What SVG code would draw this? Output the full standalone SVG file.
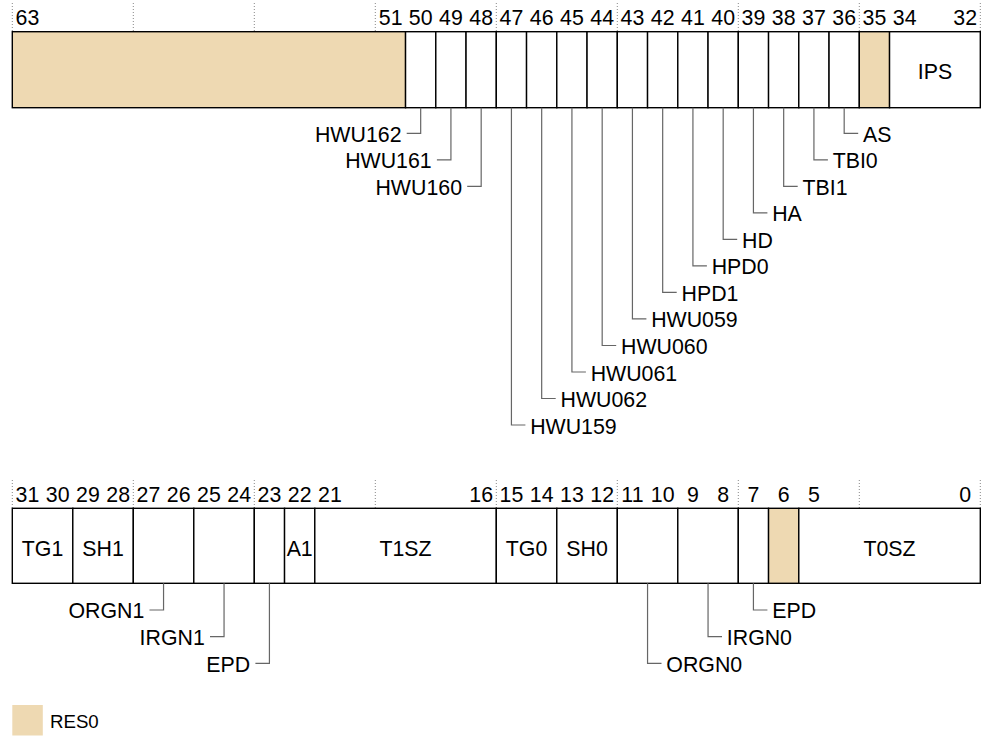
<svg xmlns="http://www.w3.org/2000/svg" width="987" height="737" viewBox="0 0 987 737">
<style>
text{font-family:"Liberation Sans",Arial,sans-serif;fill:#000}
.n{font-size:21.33px;text-anchor:middle}
.f{font-size:21.33px;text-anchor:middle}
.l{font-size:21.33px}
.e{text-anchor:end}
.cell{fill:#fff;stroke:#000;stroke-width:1.4}
.res{fill:#EED9B2;stroke:#000;stroke-width:1.4}
.dot{stroke:#888;stroke-width:1;stroke-dasharray:1,2;fill:none}
.ln{stroke:#666;stroke-width:1.2;fill:none}
</style>
<g id="grid-top">
<path class="dot" d="M12.3,3V31.7M133.3,3V31.7M254.3,3V31.7M375.3,3V31.7M496.3,3V31.7M617.3,3V31.7M738.3,3V31.7M859.3,3V31.7M980.3,3V31.7"/>
</g>
<g id="bits-top">
<text class="n" x="27.43" y="25">63</text>
<text class="n" x="390.68" y="25">51</text>
<text class="n" x="420.68" y="25">50</text>
<text class="n" x="450.93" y="25">49</text>
<text class="n" x="481.18" y="25">48</text>
<text class="n" x="511.43" y="25">47</text>
<text class="n" x="541.68" y="25">46</text>
<text class="n" x="571.93" y="25">45</text>
<text class="n" x="602.18" y="25">44</text>
<text class="n" x="632.43" y="25">43</text>
<text class="n" x="662.68" y="25">42</text>
<text class="n" x="692.93" y="25">41</text>
<text class="n" x="723.18" y="25">40</text>
<text class="n" x="753.43" y="25">39</text>
<text class="n" x="783.68" y="25">38</text>
<text class="n" x="813.93" y="25">37</text>
<text class="n" x="844.18" y="25">36</text>
<text class="n" x="874.43" y="25">35</text>
<text class="n" x="904.68" y="25">34</text>
<text class="n" x="965.18" y="25">32</text>
</g>
<g id="reg-top">
<rect id="f63_51" class="res" x="12.3" y="31.7" width="393.25" height="76"/>
<rect id="f50" class="cell" x="405.55" y="31.7" width="30.25" height="76"/>
<rect id="f49" class="cell" x="435.8" y="31.7" width="30.25" height="76"/>
<rect id="f48" class="cell" x="466.05" y="31.7" width="30.25" height="76"/>
<rect id="f47" class="cell" x="496.3" y="31.7" width="30.25" height="76"/>
<rect id="f46" class="cell" x="526.55" y="31.7" width="30.25" height="76"/>
<rect id="f45" class="cell" x="556.8" y="31.7" width="30.25" height="76"/>
<rect id="f44" class="cell" x="587.05" y="31.7" width="30.25" height="76"/>
<rect id="f43" class="cell" x="617.3" y="31.7" width="30.25" height="76"/>
<rect id="f42" class="cell" x="647.55" y="31.7" width="30.25" height="76"/>
<rect id="f41" class="cell" x="677.8" y="31.7" width="30.25" height="76"/>
<rect id="f40" class="cell" x="708.05" y="31.7" width="30.25" height="76"/>
<rect id="f39" class="cell" x="738.3" y="31.7" width="30.25" height="76"/>
<rect id="f38" class="cell" x="768.55" y="31.7" width="30.25" height="76"/>
<rect id="f37" class="cell" x="798.8" y="31.7" width="30.25" height="76"/>
<rect id="f36" class="cell" x="829.05" y="31.7" width="30.25" height="76"/>
<rect id="f35" class="res" x="859.3" y="31.7" width="30.25" height="76"/>
<g id="fIPS"><rect class="cell" x="889.55" y="31.7" width="90.75" height="76"/><text class="f" x="935" y="79">IPS</text></g>
</g>
<g id="connectors-top">
<path class="ln" d="M420.68,107.7V133.3H406.7"/>
<path class="ln" d="M450.93,107.7V159.8H436.9"/>
<path class="ln" d="M481.18,107.7V186.3H467.2"/>
<path class="ln" d="M844.18,107.7V133.3H858.2"/>
<path class="ln" d="M813.93,107.7V159.8H827.9"/>
<path class="ln" d="M783.68,107.7V186.4H797.7"/>
<path class="ln" d="M753.43,107.7V212.9H767.4"/>
<path class="ln" d="M723.18,107.7V239.4H737.2"/>
<path class="ln" d="M692.93,107.7V265.9H706.9"/>
<path class="ln" d="M662.68,107.7V292.4H676.7"/>
<path class="ln" d="M632.43,107.7V318.9H646.4"/>
<path class="ln" d="M602.18,107.7V345.5H616.2"/>
<path class="ln" d="M571.93,107.7V372H585.9"/>
<path class="ln" d="M541.68,107.7V398.5H555.7"/>
<path class="ln" d="M511.43,107.7V425H525.4"/>
</g>
<g id="labels-top">
<text class="l e" x="401.5" y="141.8">HWU162</text>
<text class="l e" x="431.7" y="168.3">HWU161</text>
<text class="l e" x="462" y="194.8">HWU160</text>
<text class="l" x="863" y="141.8">AS</text>
<text class="l" x="832.7" y="168.3">TBI0</text>
<text class="l" x="802.5" y="194.9">TBI1</text>
<text class="l" x="772.2" y="221.4">HA</text>
<text class="l" x="742" y="247.9">HD</text>
<text class="l" x="711.7" y="274.4">HPD0</text>
<text class="l" x="681.5" y="300.9">HPD1</text>
<text class="l" x="651.2" y="327.4">HWU059</text>
<text class="l" x="621" y="354">HWU060</text>
<text class="l" x="590.7" y="380.5">HWU061</text>
<text class="l" x="560.5" y="407">HWU062</text>
<text class="l" x="530.2" y="433.5">HWU159</text>
</g>
<g id="grid-bottom">
<path class="dot" d="M12.3,480V508.3M133.3,480V508.3M254.3,480V508.3M375.3,480V508.3M496.3,480V508.3M617.3,480V508.3M738.3,480V508.3M859.3,480V508.3M980.3,480V508.3"/>
</g>
<g id="bits-bottom">
<text class="n" x="27.43" y="501.7">31</text>
<text class="n" x="57.68" y="501.7">30</text>
<text class="n" x="87.93" y="501.7">29</text>
<text class="n" x="118.18" y="501.7">28</text>
<text class="n" x="148.43" y="501.7">27</text>
<text class="n" x="178.68" y="501.7">26</text>
<text class="n" x="208.93" y="501.7">25</text>
<text class="n" x="239.18" y="501.7">24</text>
<text class="n" x="269.43" y="501.7">23</text>
<text class="n" x="299.68" y="501.7">22</text>
<text class="n" x="329.93" y="501.7">21</text>
<text class="n" x="481.18" y="501.7">16</text>
<text class="n" x="511.43" y="501.7">15</text>
<text class="n" x="541.68" y="501.7">14</text>
<text class="n" x="571.93" y="501.7">13</text>
<text class="n" x="602.18" y="501.7">12</text>
<text class="n" x="632.43" y="501.7">11</text>
<text class="n" x="662.68" y="501.7">10</text>
<text class="n" x="692.93" y="501.7">9</text>
<text class="n" x="723.18" y="501.7">8</text>
<text class="n" x="753.43" y="501.7">7</text>
<text class="n" x="783.68" y="501.7">6</text>
<text class="n" x="813.93" y="501.7">5</text>
<text class="n" x="965.18" y="501.7">0</text>
</g>
<g id="reg-bottom">
<g id="fTG1"><rect class="cell" x="12.3" y="508.3" width="60.5" height="75"/><text class="f" x="42.55" y="556">TG1</text></g>
<g id="fSH1"><rect class="cell" x="72.8" y="508.3" width="60.5" height="75"/><text class="f" x="103.05" y="556">SH1</text></g>
<rect id="fORGN1" class="cell" x="133.3" y="508.3" width="60.5" height="75"/>
<rect id="fIRGN1" class="cell" x="193.8" y="508.3" width="60.5" height="75"/>
<rect id="fEPD1" class="cell" x="254.3" y="508.3" width="30.25" height="75"/>
<g id="fA1"><rect class="cell" x="284.55" y="508.3" width="30.25" height="75"/><text class="f" x="299.68" y="556">A1</text></g>
<g id="fT1SZ"><rect class="cell" x="314.8" y="508.3" width="181.5" height="75"/><text class="f" x="405.55" y="556">T1SZ</text></g>
<g id="fTG0"><rect class="cell" x="496.3" y="508.3" width="60.5" height="75"/><text class="f" x="526.55" y="556">TG0</text></g>
<g id="fSH0"><rect class="cell" x="556.8" y="508.3" width="60.5" height="75"/><text class="f" x="587.05" y="556">SH0</text></g>
<rect id="fORGN0" class="cell" x="617.3" y="508.3" width="60.5" height="75"/>
<rect id="fIRGN0" class="cell" x="677.8" y="508.3" width="60.5" height="75"/>
<rect id="fEPD0" class="cell" x="738.3" y="508.3" width="30.25" height="75"/>
<rect id="f6" class="res" x="768.55" y="508.3" width="30.25" height="75"/>
<g id="fT0SZ"><rect class="cell" x="798.8" y="508.3" width="181.5" height="75"/><text class="f" x="889.55" y="556">T0SZ</text></g>
</g>
<g id="connectors-bottom">
<path class="ln" d="M163.55,583.3V610H149.5"/>
<path class="ln" d="M224.05,583.3V636.7H210"/>
<path class="ln" d="M269.43,583.3V663.3H255.4"/>
<path class="ln" d="M753.43,583.3V610H767.4"/>
<path class="ln" d="M708.05,583.3V636.7H722"/>
<path class="ln" d="M647.55,583.3V663.3H661.5"/>
</g>
<g id="labels-bottom">
<text class="l e" x="144.3" y="618.3">ORGN1</text>
<text class="l e" x="204.8" y="645">IRGN1</text>
<text class="l e" x="250.2" y="671.6">EPD</text>
<text class="l" x="772.2" y="618.3">EPD</text>
<text class="l" x="726.8" y="645">IRGN0</text>
<text class="l" x="666.3" y="671.6">ORGN0</text>
</g>
<g id="legend">
<rect x="12.3" y="705" width="30.5" height="30.5" fill="#EED9B2"/>
<text x="50" y="728.3" style="font-size:18.67px">RES0</text>
</g>
</svg>
